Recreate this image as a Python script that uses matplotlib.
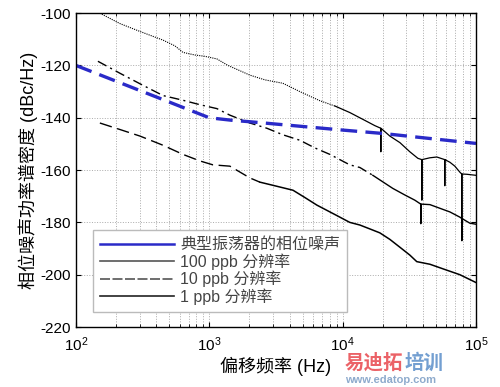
import matplotlib
matplotlib.use("Agg")
import matplotlib.pyplot as plt
import numpy as np
from matplotlib.lines import Line2D

plt.rcParams['font.family'] = ['Liberation Sans', 'Noto Sans CJK SC', 'DejaVu Sans']
plt.rcParams['axes.unicode_minus'] = False

# typical oscillator phase noise (blue dashed)
osc_f = [100, 1000, 1500, 2000, 10000, 20000, 100000]
osc_db = [-120, -140, -141, -141.5, -144.7, -146, -149.8]

# 100 ppb resolution (top trace)
f100 = [151, 214, 302, 449, 552, 634, 780, 927, 1140, 1380, 1695, 2015, 2610, 3560,
        4780, 6760, 8750, 11310, 14670, 17420, 19300, 19330, 19360, 22600, 26870,
        31900, 36650, 39200, 39260, 39320, 45100, 50840, 58300, 58350, 58400, 63700,
        69400, 75700, 78250, 78300, 78350, 85300, 100000]
db100 = [-100, -104, -107, -110.3, -112.5, -115, -116, -116.5, -117.5, -120, -122, -123.7,
         -125.5, -126.8, -130, -133.5, -135.5, -138, -141, -143, -144, -153, -144, -147,
         -149.5, -153, -155.5, -156, -171.5, -156, -155.3, -155, -156, -166, -156, -157,
         -158.5, -160.8, -161.5, -178.4, -161.5, -161.6, -162]

# 10 ppb resolution (middle trace)
f10 = [146, 214, 302, 449, 634, 850, 1140, 1426, 2015, 2700, 3560, 4780, 6170, 8020,
       11310, 13450, 16840, 23770, 29220, 34760, 38500, 38550, 38600, 45100, 53570,
       63700, 75700, 78250, 78300, 78350, 89900, 100000]
db10 = [-118.4, -123, -127, -131.5, -133.3, -135, -136.5, -139, -142, -144, -146.5, -148.6,
        -151.5, -154, -158, -159, -162, -167, -169.5, -171.5, -173, -180.5, -173, -173.2,
        -174.6, -176, -178, -178.5, -187, -178.5, -180.3, -180.7]

# 1 ppb resolution (bottom trace)
f1 = [151, 214, 302, 449, 634, 850, 1064, 1426, 2015, 2390, 3100, 4240, 5210, 6410,
      8750, 11310, 13450, 16000, 19000, 22600, 26870, 31900, 35950, 45100, 58350,
      75700, 100000]
db1 = [-142, -144.5, -147, -150.5, -154, -156.5, -158, -158.5, -163, -164.6, -166,
       -167.7, -170.5, -173.4, -177, -180, -181, -182.5, -184, -186.5, -189.5, -192.5,
       -195, -196, -198, -200, -203]

legend_labels = ['典型振荡器的相位噪声', '100 ppb 分辨率', '10 ppb 分辨率', '1 ppb 分辨率']

fig = plt.figure(figsize=(5, 3.87), dpi=100)
ax = fig.add_axes([0.152, 0.155, 0.8, 0.811])


def split(f, d, fc):
    f = np.array(f, dtype=float)
    d = np.array(d, dtype=float)
    lo = f <= fc
    hi = f >= f[lo][-1]
    return (f[lo], d[lo]), (f[hi], d[hi])


(a, b), (c, e) = split(f100, db100, 8750)
ax.plot(a, b, color='black', lw=0.8, ls=(0, (1, 1)))
ax.plot(c, e, color='black', lw=0.9)

(a, b), (c, e) = split(f10, db10, 16840)
ax.plot(a, b, color='black', lw=1.0, ls=(0, (7, 3, 1.5, 3)))
ax.plot(c, e, color='black', lw=1.0)

(a, b), (c, e) = split(f1, db1, 2390)
ax.plot(a, b, color='black', lw=1.0, ls=(0, (9, 4)))
ax.plot(c, e, color='black', lw=1.1)

ax.plot(osc_f, osc_db, color='#2a2ac8', lw=2.4, ls=(0, (5, 2.5)))

ax.set_xscale('log')
ax.set_xlim(100, 1e5)
ax.set_ylim(-220, -100)
ax.set_yticks(np.arange(-220, -99, 20))
ax.grid(True, which='major', axis='both', color='#aaaaaa', ls=':', lw=0.7)
ax.grid(True, which='minor', axis='x', color='#aaaaaa', ls=':', lw=0.7)
ax.tick_params(which='both', direction='in', top=True, right=True, labelsize=11)
ax.tick_params(axis='x', pad=6)
for s in ax.spines.values():
    s.set_linewidth(1.0)

ax.set_xlabel('偏移频率 (Hz)', fontsize=13, labelpad=2)
ax.set_ylabel('相位噪声功率谱密度 (dBc/Hz)', fontsize=13, labelpad=2)

handles = [Line2D([], [], color='#2a2ac8', lw=1.8),
           Line2D([], [], color='#555555', lw=1.2),
           Line2D([], [], color='#555555', lw=1.2, ls=(0, (6, 1.5))),
           Line2D([], [], color='#222222', lw=1.2)]
leg = ax.legend(handles, legend_labels, loc='lower left', bbox_to_anchor=(0.0425, 0.048),
                borderaxespad=0, fontsize=11.5, handlelength=4.6, handletextpad=0.4,
                labelspacing=0.05, borderpad=0.45, fancybox=False, framealpha=1,
                edgecolor='#bbbbbb')
leg.get_frame().set_linewidth(1.0)
for t in leg.get_texts():
    t.set_color('#444444')

# watermark, kept clear of the tick labels
fig.text(0.69, 0.048, '易迪拓', color='#e8474c', fontsize=14, fontweight='bold',
         alpha=0.85, family=['Noto Sans CJK SC'])
fig.text(0.809, 0.048, '培训', color='#5b8ec9', fontsize=14, fontweight='bold',
         alpha=0.85, family=['Noto Sans CJK SC'])
fig.text(0.69, 0.006, 'www.edatop.com', color='#7a9cc4', fontsize=8, fontweight='bold',
         alpha=0.85, va='bottom')

fig.savefig('out.png', dpi=100)
